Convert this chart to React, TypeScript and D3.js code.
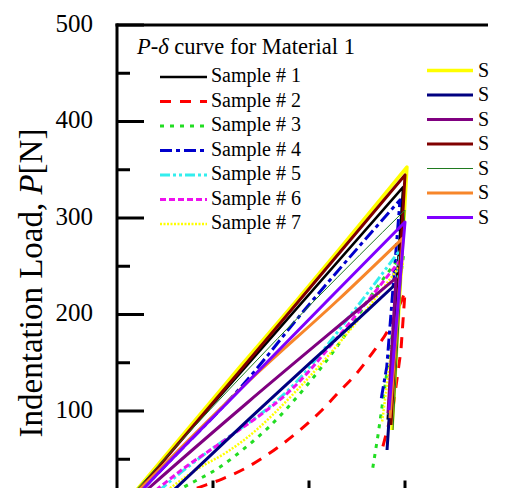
import React from "react";
import * as d3 from "d3";

const W = 507;
const H = 499;

// Legend labels
const legendLabels1 = ["Sample # 1", "Sample # 2", "Sample # 3", "Sample # 4", "Sample # 5", "Sample # 6", "Sample # 7"];
const legendLabels2 = ["S", "S", "S", "S", "S", "S", "S"];
const yMajorTicks = [100, 200, 300, 400, 500];
const yMinorTicks = [50, 150, 250, 350, 450];
const xMajorTicks = [0.1, 0.2, 0.3];

// Data: [displacement δ (mm), load P (N)] — loading up to the peak, then unloading
const sample1: [number, number][] = [[0.005, 0], [0.128, 139], [0.298, 332], [0.282, 91]];
const sample2: [number, number][] = [[0.024, 0], [0.0865, 21.2], [0.1094, 29.5], [0.1323, 39.9], [0.1667, 61.7], [0.1906, 80.3], [0.2115, 99], [0.2302, 118.7], [0.25, 139.4], [0.2667, 161.1], [0.2813, 181.9], [0.3, 223.3], [0.2958, 163.2], [0.2875, 103.1], [0.276, 59.6]];
const sample3: [number, number][] = [[0.0344, 0], [0.0698, 21.2], [0.1073, 42], [0.1333, 61.7], [0.1594, 84.5], [0.1938, 121.8], [0.225, 161.1], [0.2448, 189.1], [0.2604, 213], [0.299, 265], [0.2719, 75.1], [0.2656, 35.8]];
const sample4: [number, number][] = [[0.0083, 0], [0.0479, 40.9], [0.131, 126.9], [0.198, 207.8], [0.2948, 318.7], [0.281, 145.6], [0.275, 111.4]];
const sample5: [number, number][] = [[0.024, 0], [0.0646, 34.7], [0.0833, 49.2], [0.1906, 134.2], [0.2458, 202.6], [0.2948, 266.8], [0.2833, 95.9]];
const sample6: [number, number][] = [[0.0188, 0], [0.0729, 43], [0.1125, 70], [0.1906, 131.1], [0.2292, 175.6], [0.2969, 258.5], [0.284, 90.7]];
const sample7: [number, number][] = [[0.0292, 0], [0.0854, 40.9], [0.1146, 57.5], [0.1323, 69.9], [0.1906, 124.9], [0.2427, 183.9], [0.2979, 254.4], [0.276, 87.6]];
const sample8: [number, number][] = [[0.0052, 0], [0.128, 145.6], [0.1875, 215], [0.302, 352.8], [0.2865, 80.3]];
const sample9: [number, number][] = [[0.0396, 0], [0.0625, 21.2], [0.1333, 87.6], [0.2635, 206.7], [0.2927, 233.7], [0.2813, 59.6]];
const sample10: [number, number][] = [[0.0104, 0], [0.0344, 21.2], [0.1354, 108.3], [0.2583, 210.9], [0.2906, 237.8], [0.2823, 97.9]];
const sample11: [number, number][] = [[0.0073, 0], [0.128, 141.5], [0.3, 344.6], [0.2854, 85.5]];
const sample12: [number, number][] = [[0.0031, 0], [0.128, 134.2], [0.2063, 215], [0.3, 308.3], [0.2875, 80.3]];
const sample13: [number, number][] = [[0.0052, 0], [0.1385, 132.1], [0.2302, 215], [0.2979, 279.3], [0.2844, 92.7]];
const sample14: [number, number][] = [[0.0094, 0], [0.0292, 21.2], [0.128, 121.8], [0.2198, 215], [0.3, 295.8], [0.2833, 101]];

const samples = [sample1, sample2, sample3, sample4, sample5, sample6, sample7, sample8, sample9, sample10, sample11, sample12, sample13, sample14];

const colors = ["#000000", "#ff0000", "#22dd22", "#0000cc", "#33eeee", "#ee11ee", "#ffff00", "#ffff00", "#000080", "#800080", "#800000", "#1f7a1f", "#f7862a", "#7f00ff"];
const widths = [2.5, 3, 3, 3, 3, 3, 2.5, 3.5, 3, 3, 3, 1, 3, 3];
const dashes = ["", "11,9", "4,6", "12,4,4,4", "10,3,3,3,3,3", "6,3", "2,1.5", "", "", "", "", "", "", ""];

const serif = "'Liberation Serif', 'Times New Roman', serif";

export default function App() {
  const x = d3.scaleLinear().domain([0, 0.4]).range([117, 501]);
  const y = d3.scaleLinear().domain([0, 500]).range([507.5, 25]);
  const loadLine = d3
    .line<[number, number]>()
    .x((d) => x(d[0]))
    .y((d) => y(d[1]))
    .curve(d3.curveMonotoneX);
  const unloadLine = d3
    .line<[number, number]>()
    .x((d) => x(d[0]))
    .y((d) => y(d[1]));

  const leg1Y = d3.range(7).map((i) => 77 + i * 24.5);
  const leg2Y = d3.range(7).map((i) => 70.5 + i * 24.5);

  return (
    <svg width={W} height={H} style={{ position: "absolute", left: 0, top: 0, background: "#fff" }}>
      <defs>
        <clipPath id="crop">
          <rect x={0} y={0} width={491} height={488} />
        </clipPath>
      </defs>
      <rect x={0} y={0} width={W} height={H} fill="#fff" />
      <g clipPath="url(#crop)">
        {/* curves */}
        {samples.map((s, i) => {
          const peak = d3.maxIndex(s, (d) => d[1]);
          const d = (loadLine(s.slice(0, peak + 1)) || "") + (unloadLine(s.slice(peak)) || "").replace(/^M/, "L");
          return (
            <path
              key={i}
              d={d}
              fill="none"
              stroke={colors[i]}
              strokeWidth={widths[i]}
              strokeDasharray={dashes[i] || undefined}
              strokeLinejoin="round"
            />
          );
        })}
        {/* axes */}
        <line x1={x(0)} x2={x(0)} y1={23.5} y2={y(0)} stroke="#000" strokeWidth={3} />
        <line x1={115.5} x2={488} y1={y(500)} y2={y(500)} stroke="#000" strokeWidth={3} />
        {yMajorTicks.map((t) => (
          <line key={"ym" + t} x1={x(0)} x2={x(0) + 27} y1={y(t)} y2={y(t)} stroke="#000" strokeWidth={3} />
        ))}
        {yMinorTicks.map((t) => (
          <line key={"yn" + t} x1={x(0)} x2={x(0) + 13} y1={y(t)} y2={y(t)} stroke="#000" strokeWidth={3} />
        ))}
        {xMajorTicks.map((t) => (
          <line key={"xm" + t} x1={x(t)} x2={x(t)} y1={y(0)} y2={y(0) - 27} stroke="#000" strokeWidth={3} />
        ))}
        {yMajorTicks.map((t) => (
          <text key={"yl" + t} x={93} y={y(t) - 2} textAnchor="end" dominantBaseline="central" fontFamily={serif} fontSize={25} fill="#000">
            {t}
          </text>
        ))}
        <text transform="translate(42,283) rotate(-90)" textAnchor="middle" fontFamily={serif} fontSize={33} fill="#000">
          Indentation Load, <tspan fontStyle="italic">P</tspan>[N]
        </text>

        {/* legend 1 */}
        <text x={137} y={54} fontFamily={serif} fontSize={22.5} fill="#000">
          <tspan fontStyle="italic">P</tspan>-<tspan fontStyle="italic">δ</tspan> curve for Material 1
        </text>
        {legendLabels1.map((lab, i) => (
          <g key={"l1" + i}>
            <line x1={160} x2={207} y1={leg1Y[i]} y2={leg1Y[i]} stroke={colors[i]} strokeWidth={widths[i]} strokeDasharray={dashes[i] || undefined} />
            <text x={211} y={leg1Y[i] + 5} fontFamily={serif} fontSize={20} fill="#000">
              {lab}
            </text>
          </g>
        ))}
        {/* legend 2 */}
        {legendLabels2.map((lab, i) => (
          <g key={"l2" + i}>
            <line x1={427} x2={473} y1={leg2Y[i]} y2={leg2Y[i]} stroke={colors[i + 7]} strokeWidth={widths[i + 7]} />
            <text x={478} y={leg2Y[i] + 6} fontFamily={serif} fontSize={20} fill="#000">
              {lab}
            </text>
          </g>
        ))}
      </g>
    </svg>
  );
}
